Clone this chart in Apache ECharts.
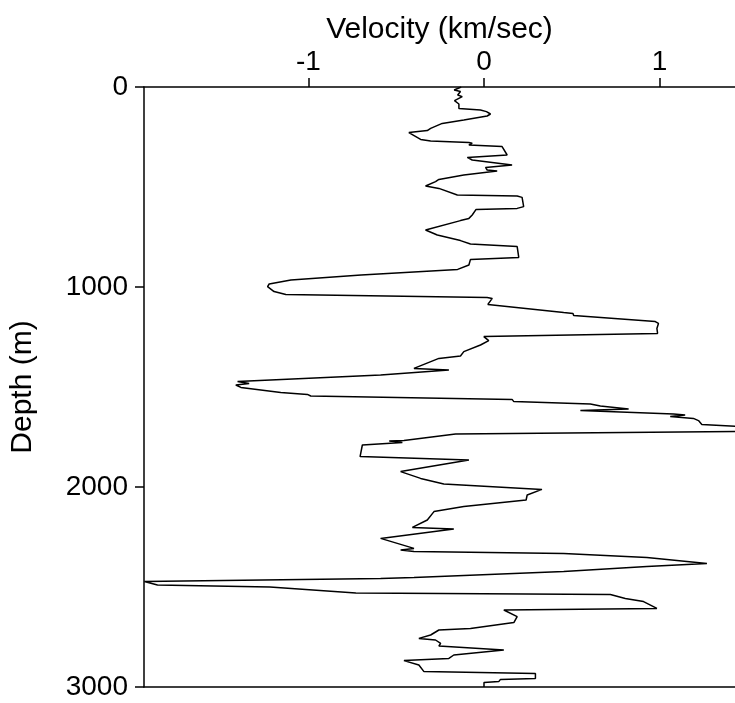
<!DOCTYPE html>
<html>
<head>
<meta charset="utf-8">
<style>
html,body{margin:0;padding:0;background:#fff;}
#chart{width:735px;height:703px;}
</style>
<script src="https://cdn.jsdelivr.net/npm/echarts@6/dist/echarts.min.js"></script>
</head>
<body>
<div id="chart"></div>
<script>
// Depth (m) and velocity (km/sec)
const depths = [0,15,23,40,48,68,85,107,115,123,135,145,165,182,207,218,228,262,270,278,281,290,298,340,352,365,390,402,415,420,440,462,473,495,507,540,545,552,598,607,612,640,657,668,715,740,768,785,798,852,862,890,912,940,965,985,998,1023,1037,1052,1057,1087,1128,1132,1143,1173,1182,1207,1232,1248,1268,1290,1323,1345,1357,1407,1415,1440,1473,1482,1490,1502,1528,1537,1545,1562,1573,1585,1595,1610,1618,1635,1640,1648,1657,1668,1687,1708,1722,1735,1768,1770,1778,1790,1797,1848,1865,1923,1957,1985,2012,2040,2065,2098,2123,2165,2202,2210,2257,2307,2315,2323,2332,2352,2382,2398,2423,2452,2458,2473,2490,2500,2530,2538,2557,2573,2607,2615,2648,2678,2707,2715,2740,2757,2765,2782,2795,2815,2840,2857,2868,2890,2923,2932,2957,2962,2973,2978,3000];
const velocities = [-0.13,-0.17,-0.134,-0.15,-0.124,-0.168,-0.143,-0.143,-0.02,0.014,0.037,0.018,-0.115,-0.238,-0.304,-0.323,-0.428,-0.361,-0.304,-0.086,-0.067,-0.086,0.103,0.132,-0.095,-0.067,0.16,0.009,0.018,0.075,-0.115,-0.257,-0.276,-0.333,-0.257,-0.152,0.189,0.217,0.226,0.189,-0.045,-0.067,-0.086,-0.134,-0.333,-0.266,-0.134,-0.077,0.189,0.198,-0.077,-0.086,-0.15,-0.7,-1.1,-1.224,-1.233,-1.196,-1.129,0.018,0.047,0.022,0.454,0.507,0.511,0.976,0.994,0.985,0.989,-0.001,0.027,-0.02,-0.115,-0.134,-0.257,-0.399,-0.2,-0.589,-1.404,-1.338,-1.414,-1.385,-1.158,-1.006,-0.987,0.16,0.17,0.606,0.663,0.824,0.549,1.08,1.146,1.061,1.193,1.222,1.241,1.7,1.45,-0.162,-0.456,-0.54,-0.465,-0.693,-0.7,-0.706,-0.086,-0.475,-0.361,-0.229,0.33,0.246,0.24,-0.115,-0.285,-0.323,-0.408,-0.172,-0.589,-0.399,-0.475,-0.399,0.454,0.928,1.27,0.928,0.454,-0.399,-0.589,-1.935,-1.86,-1.22,-0.73,0.72,0.805,0.909,0.985,0.113,0.189,0.17,-0.077,-0.257,-0.304,-0.371,-0.276,-0.247,-0.257,0.113,-0.172,-0.2,-0.456,-0.371,-0.342,0.293,0.293,0.094,0.084,0.0,0.0];
const xTicks = [-1, 0, 1];
const yTicks = [0, 1000, 2000, 3000];

const FONT = '"Liberation Sans", Arial, sans-serif';
const seriesData = depths.map((d, i) => [velocities[i], d]);

const chart = echarts.init(document.getElementById('chart'), null, {renderer: 'canvas'});
const axisLineStyle = {color: '#000', width: 1.5};
chart.setOption({
  animation: false,
  backgroundColor: '#fff',
  grid: {left: 143, top: 87, right: 0, bottom: 16, containLabel: false},
  xAxis: [{
    type: 'value',
    position: 'top',
    min: -1.937,
    max: 1.43,
    name: 'Velocity (km/sec)',
    nameLocation: 'middle',
    nameGap: 42,
    nameMoveOverlap: false,
    nameTextStyle: {color: '#000', fontSize: 30, fontFamily: FONT},
    axisLine: {show: true, onZero: false, lineStyle: axisLineStyle},
    axisTick: {show: true, length: 9, inside: false, customValues: xTicks, lineStyle: axisLineStyle},
    axisLabel: {show: true, customValues: xTicks, color: '#000', fontSize: 28, fontFamily: FONT, margin: 11},
    splitLine: {show: false}
  }, {
    type: 'value',
    position: 'bottom',
    min: -1.937,
    max: 1.43,
    axisLine: {show: true, onZero: false, lineStyle: axisLineStyle},
    axisTick: {show: false},
    axisLabel: {show: false},
    splitLine: {show: false}
  }],
  yAxis: {
    type: 'value',
    inverse: true,
    min: 0,
    max: 3000,
    interval: 1000,
    name: 'Depth (m)',
    nameLocation: 'middle',
    nameGap: 106,
    nameRotate: 90,
    nameTextStyle: {color: '#000', fontSize: 30, fontFamily: FONT},
    axisLine: {show: true, onZero: false, lineStyle: axisLineStyle},
    axisTick: {show: true, length: 9, inside: false, lineStyle: axisLineStyle},
    axisLabel: {color: '#000', fontSize: 28, fontFamily: FONT, margin: 16, formatter: v => String(v)},
    splitLine: {show: false}
  },
  series: [{
    type: 'line',
    xAxisIndex: 0,
    data: seriesData,
    showSymbol: false,
    symbol: 'none',
    smooth: false,
    clip: true,
    lineStyle: {color: '#000', width: 1.5}
  }]
});
</script>
</body>
</html>
